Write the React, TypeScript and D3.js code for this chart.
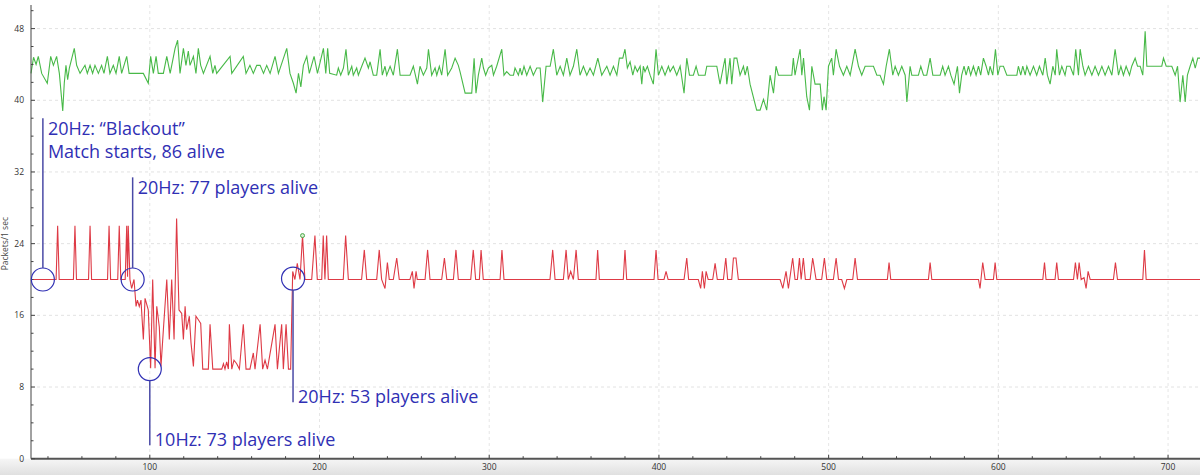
import React from 'react';
import * as d3 from 'd3';

type P = [number, number];

// Green series (upper) — vertices [seconds, packets/1 sec]
const greenA: P[] = [[30,43],[31.5,44.8],[33,44],[34.3,44.9],[36.3,43],[39.6,41.9],[41.6,44.9],[43.2,43.9],[45.1,44.9],[46.7,43],[48.7,38.8],[49.6,41.9],[50.6,43.9],[51.6,42.3],[52.6,43.6],[55.5,45.8],[56.9,43.9],[58.9,43],[61.8,43.9],[63.2,43],[64.8,43.9],[66.3,43],[67.7,43.9],[69.7,43],[71.6,43.9],[73,43],[75,44.9],[76.5,43],[78.5,43.9],[80.1,43],[82,44.9],[83.4,43],[86.4,44.9],[87.8,43],[96.2,43],[99.1,41.9],[100.5,44.9],[102.1,43],[103.7,44.9],[105,43],[108,43],[110,44.9],[112,43],[114.9,45.8],[116.4,46.7],[117.8,43],[119.8,45.8],[121.3,43.9],[122.7,45.5],[123.7,43.9],[125.7,44.9],[127.2,43],[128.6,45.8],[130,43.9],[131.6,43],[135.5,44.9],[137.1,43],[138.4,43.9],[139.4,43],[147.3,44.9],[148.3,43],[155.1,44.9],[156.7,43],[159,43.9],[161,43],[163,43.9],[165,43.9],[167,43],[168.9,43.9],[170.9,43],[173.8,44.9],[175.8,43],[180.7,45.8],[182.6,43],[184.6,41.9],[186.2,40.8],[187.6,43],[189,41.5],[190.5,43.9],[192.5,44.9],[194,43],[196.8,44.9],[198.8,43],[202.3,45.8],[203.7,43],[204.8,45.8],[206,43]];
const greenB: P[] = [[210.1,42.8],[211.1,43.6],[212.5,42.8],[214.1,43.6],[215.6,45.7],[217,42.8],[219,43.8],[219.9,42.8],[221.9,43.6],[222.9,42.8],[224.9,43.8],[226.8,44.7],[228.8,43.6],[229.8,44.3],[231.7,42.8],[233.7,42.8],[235.7,45.7],[237,42.8],[238.6,43.8],[239.6,42.8],[241.6,43.8],[243.5,42.8],[245.9,45.7],[247.5,42.8],[253.3,42.8],[255.3,43.8],[257.7,41.8],[259.2,43.8],[261.2,42.8],[263.2,43.6],[264.2,45.7],[266.1,42.8],[268.1,43.6],[269.1,42.8],[270.6,43.8],[272,42.8],[274,45.7],[275.5,42.8],[277.9,43.6],[279.9,44.7],[281.8,43.9],[282.8,43.2],[285.8,40.8],[289.7,40.8],[291.1,44.7],[292.2,40.8],[293.6,42.8],[295.6,44.7],[296.6,43.6],[297.9,42.8],[299.5,43.6],[301.5,43.9],[302.5,42.8],[304.4,43.8],[307.4,45.7],[308.7,42.8],[310.3,43.2],[312.3,42.8],[314.3,42.8],[315.2,43.6],[317.2,42.8],[318.2,43.6],[319.2,42.8],[320.5,43.8],[322.1,42.8],[324.1,43.8],[326,42.8],[328,43.6],[330,43.6],[331.5,39.8],[333.5,43.8],[335.9,43.8],[337.8,45.7],[339.8,42.8],[341.8,43.8],[343.7,42.8],[345.7,44.7],[347.6,42.8],[349.6,43.8],[351.6,45.7],[353.5,42.8],[355.5,43.8],[357.5,42.8],[359.4,43.6],[361.4,42.8],[364,44.7],[366.3,42.8],[369.3,43.8],[371.2,42.8],[373.2,43.8],[375.2,42.8],[376.7,44.7]];
const greenC: P[] = [[378.7,44.7],[380,45.7],[381.4,43.6],[383,44.3],[384.6,42.8],[385.9,43.8],[387.3,43.2],[388.9,43.8],[389.9,41.8],[390.8,43.8],[391.8,43.2],[393.2,43.8],[394.8,42.8],[396.7,41.8],[398.3,45.7],[399.7,42.8],[401.7,43.8],[403.6,42.8],[405.6,43.8],[406.6,43.2],[408.5,43.8],[410.5,42.8],[412.5,43.8],[414.8,40.8],[416.4,44.7],[418,42.8],[420.3,42.8],[421.9,43.8],[423.3,42.8],[427.2,42.8],[428.2,43.8],[434.1,43.8],[436,41.8],[438,43.8],[439,44.7],[440,41.8],[441.9,44.7],[442.9,41.8],[444.3,44.7],[445.9,44.7],[447.8,42.8],[449.8,43.8],[450.8,42.8],[452.1,43.8],[453.7,41.8],[457.6,38.9],[459.6,38.9],[461.6,40.1],[463.5,38.9],[465.5,42.8],[467.5,40.8],[469,43.8],[470.4,42.8],[478.3,42.8],[479.2,44.7],[480.2,42.8],[481.2,43.8],[483.2,45.7],[484.2,42.8],[485.2,44.7],[487.1,40.4],[488.7,38.9],[490.1,43.8],[492,41.8],[495,41.8],[496.3,38.9],[497.3,40.4],[498.5,38.9],[499.9,43.8],[501.8,44.7],[502.8,42.8],[504.4,45.7],[506.4,43.8],[508.7,42.8],[510.7,43.8],[512.7,42.8],[515.6,45.7],[517.6,43.8],[519.5,42.8],[521.5,43.8],[523.5,43.8],[526.4,43.8],[528.4,42.8],[530.3,42.8],[532.3,41.8],[533.9,43.8],[535.8,45.7],[537.8,42.8],[539.2,43.8],[541.1,42.8],[543.1,43.8],[545.1,42.8],[546.1,39.8],[548,43.8]];
const greenD: P[] = [[549,42.8],[552.9,42.8],[554.3,43.8],[555.9,42.8],[557.8,42.8],[559.8,44.7],[561.4,42.8],[565.7,42.8],[567.2,43.8],[568.6,42.8],[570.6,43.8],[572,42.8],[573.9,41.8],[575.9,43.8],[577.1,40.8],[578.4,42.8],[579.8,43.8],[581,42.8],[582.4,43.8],[583.7,42.8],[585.3,43.8],[586.9,42.8],[588.3,43.8],[589.6,42.8],[591.2,44.7],[592.8,43.8],[594.2,42.8],[595.1,43.8],[596.7,42.8],[598.3,45.7],[599.7,42.8],[601,43.8],[603,43.8],[605,42.8],[610.9,42.8],[611.8,43.8],[613.2,42.8],[614.4,43.8],[615.8,42.8],[616.8,43.8],[618.7,42.8],[620.7,43.8],[622.6,42.8],[624.2,43.8],[626.2,42.8],[627.6,44.7],[628.9,42.8],[630.5,41.8],[632.1,43.8],[633.5,42.8],[634.4,45.7],[636,42.8],[637.4,43.8],[639.3,42.8],[640.3,43.8],[642.3,43.8],[644.3,42.8],[645.6,45.7],[647.2,42.8],[648.2,45.7],[649.8,43.8],[651.1,42.8],[653.1,43.8],[655.1,42.8],[657,43.8],[659,42.8],[661,43.8],[662.9,42.8],[664.9,43.8],[666.9,42.8],[668.8,45.7],[670.8,42.8],[672.2,43.8],[673.7,42.8],[675.3,43.8],[677.3,42.8],[678.6,43.8],[680.6,44.7],[682,43.8],[683.6,43.8],[685.1,42.8],[686.5,47.7],[687.5,43.8],[691.4,43.8],[696.3,43.8],[697.3,44.7],[698.9,43.8],[702.2,43.8],[704.2,42.8],[705.6,43.8],[707.1,39.8],[708.7,42.8],[710.1,39.8],[711.4,42.8],[713,43.8],[714.6,44.7],[716,43.6],[717.5,44.7],[720,44.7]];

// Red series (lower)
const redA: P[] = [[30,20],[44.8,20],[45.7,26],[46.6,20],[55,20],[55.9,26],[56.8,20],[63.9,20],[64.8,26],[65.7,20],[75.1,20],[76,26],[76.9,20],[81.1,20],[82,26],[82.9,20],[85.5,20],[86.4,26],[86.9,20.3],[87.3,26],[88.3,20]];
const redB: P[] = [[89.3,19],[90.7,20],[91.9,17],[92.7,17.7],[93.8,17],[94.8,17.7],[96.2,13.3],[97.2,17.9],[99.1,16.6],[100.5,10.1],[101.7,20],[103.1,10.1],[104.1,17],[105.6,14.7],[106.6,10.3],[108,14.4],[110,20],[111.5,13.3],[112.9,20],[114.3,13.3],[115.8,26.8],[117.2,16.6],[118.8,16.2],[119.8,13.3],[120.8,17],[121.7,14.4],[123.3,15.9],[124.3,12.9],[125.7,10.3],[127.2,15.9],[128.6,15.5],[130,15.1],[131.2,10],[134.5,10],[135.5,15],[137.1,10],[142.4,10],[143.4,10.6],[144.3,10],[145.3,10.8],[146.3,10],[146.9,15],[148.3,10],[149.6,11],[151.2,10.6],[152.8,10],[155.1,15],[156.7,10],[159,10],[161,11.8],[162,10],[165,15],[166.5,10],[167.9,11],[169.3,10],[173.8,15],[175.2,10],[177.7,15],[178.7,10],[180.3,15],[181.7,10],[183,10]];
const redC: P[] = [[184.2,20.9],[185.5,20],[186.9,21.8],[188.5,20],[190,24.9],[191.4,20],[195.4,20],[197.3,24.9],[198.7,20],[201.3,20],[202.2,24.9],[203.2,20],[204.2,24.9],[205.2,20],[214,20],[215.4,24.9],[217,20],[224.8,20],[226.4,23.3],[227.8,20],[233.7,20],[235.2,23.3],[236.6,20],[238.6,19],[240,21.9],[241.1,20],[243.5,20],[245.5,22.4],[247,20],[253.3,20],[254.7,20.9],[255.7,19],[256.9,20.9],[257.6,20],[262.2,20],[263.7,23.3],[265.1,20],[272,20],[273.6,22.4],[275,20],[278.9,20],[280.4,23.3],[281.8,20],[289.1,20],[290.6,23.3],[292,20],[294.2,20],[295.2,23.3],[296.5,20],[306.4,20],[307.5,23.3],[308.7,20],[335.8,20],[337.4,23.3],[338.8,20],[343.7,20],[345.3,23.3],[346.6,20],[348,20.9],[349.6,20],[351.2,23.3],[352.5,20]];
const redD: P[] = [[362.9,20],[363.9,23.3],[364.9,20],[379,20],[380,23.3],[381,20],[397.1,20],[398.3,23.3],[399.5,20],[403,20],[404.2,20.9],[405.4,20],[414.8,20],[416.4,22.4],[417.5,20],[423.2,20],[424.6,19],[425.6,20.9],[426.8,19],[427.8,20.9],[429,20],[431.7,20],[433.1,21.8],[434.4,20],[438,20],[439.4,22.4],[440.5,20],[442.9,20],[443.9,22.4],[445.4,22.4],[446.8,20],[471.4,20],[473,19],[474.9,20.9],[476.3,19],[478.8,22.4],[480.2,20],[481.6,20],[482.8,22.4],[483.8,20],[485.1,22.4],[486.3,20],[489.1,20],[490.6,22.4],[492.6,20],[495.9,20],[497.5,22.4],[498.9,20],[502.8,20],[504.4,22.4],[505.8,20],[507.7,20],[509.3,19],[510.7,20],[514.2,20],[515.6,22.4],[517,20]];
const redE: P[] = [[534.6,20],[535.6,21.9],[536.6,20],[558.8,20],[559.8,21.9],[560.8,20],[588.3,20],[589.2,19],[590.8,21.9],[592.2,20],[597.1,20],[598.1,21.9],[599.1,20],[626.2,20],[627.2,21.9],[628.1,20],[633.4,20],[634.4,21.9],[635.4,20],[644.3,20],[645.4,21.9],[646.6,20],[647.6,21.9],[648.8,20],[650.5,20.2],[651.7,19],[652.9,20.9],[654.1,20],[667.8,20],[669,21.9],[670.2,20],[685.1,20],[686.1,23.3],[687.1,20],[720,20]];

const marker: P = [190, 24.9];

const xTicks = [100, 200, 300, 400, 500, 600, 700];
const xMinor = d3.range(40, 721, 20);
const yTicks = [0, 8, 16, 24, 32, 40, 48];
const yMinor = d3.range(0, 51, 2);

// Annotations: anchor [t, v], end of leader line (value), text lines
const annAnchors: P[] = [[37, 20], [89.9, 20], [100, 10], [184.4, 20.1]];
const annLineEnd = [38, 31.4, 1.5, 6.3];
const annTexts = [
  ['20Hz: \u201CBlackout\u201D', 'Match starts, 86 alive'],
  ['20Hz: 77 players alive'],
  ['10Hz: 73 players alive'],
  ['20Hz: 53 players alive'],
];

export default function App() {
  const W = 1200, H = 475;
  const x = d3.scaleLinear().domain([30, 720]).range([31, 1202]);
  const y = d3.scaleLinear().domain([0, 48]).range([458.7, 28.6]);
  const line = d3.line<P>().x(d => x(d[0])).y(d => y(d[1]));
  const green = [...greenA, ...greenB, ...greenC, ...greenD];
  const red = [...redA, ...redB, ...redC, ...redD, ...redE];
  const x0 = x(30), yb = y(0), yTop = 5;
  const blue = '#3030b4';
  const lineBlue = '#4a4aa6';
  const font = "'Open Sans', 'Noto Sans', sans-serif";
  const r = 11.5;

  return (
    <svg width={W} height={H} style={{ position: 'absolute', left: 0, top: 0, background: '#fff' }}>
      <defs>
        <linearGradient id="bandg" x1="0" y1="0" x2="0" y2="1">
          <stop offset="0" stopColor="#f6f6f6" />
          <stop offset="1" stopColor="#e0e0e0" />
        </linearGradient>
      </defs>
      <rect x={0} y={0} width={W} height={H} fill="#fff" />
      <rect x={0} y={yb} width={W} height={H - yb} fill="url(#bandg)" />
      {/* grid */}
      {yTicks.filter(t => t > 0).map(t => (
        <line key={'gy' + t} x1={x0} x2={W} y1={y(t)} y2={y(t)} stroke="#e2e2e2" strokeDasharray="3,3" strokeWidth={1} />
      ))}
      {xTicks.map(t => (
        <line key={'gx' + t} x1={x(t)} x2={x(t)} y1={yTop} y2={yb} stroke="#e6e6e6" strokeDasharray="3,3" strokeWidth={1} />
      ))}
      {/* series */}
      <path d={line(green) || ''} fill="none" stroke="#48b948" strokeWidth={1.1} />
      <path d={line(red) || ''} fill="none" stroke="#de3a45" strokeWidth={1.1} />
      <circle cx={x(marker[0])} cy={y(marker[1])} r={2} fill="#d8f0d0" stroke="#4aa84a" strokeWidth={1} />
      {/* axes */}
      <line x1={x0} x2={x0} y1={yTop} y2={yb} stroke="#444" strokeWidth={1} />
      <line x1={x0} x2={W} y1={yb} y2={yb} stroke="#555" strokeWidth={2} />
      {yMinor.map(t => (
        <line key={'ym' + t} x1={x0} x2={x0 + (t % 8 === 0 ? 4 : 2.5)} y1={y(t)} y2={y(t)} stroke="#444" strokeWidth={1} />
      ))}
      {xMinor.map(t => (
        <line key={'xm' + t} x1={x(t)} x2={x(t)} y1={yb} y2={yb - (t % 100 === 0 ? 4 : 2.5)} stroke="#444" strokeWidth={1} />
      ))}
      {yTicks.map(t => (
        <text key={'yl' + t} x={24} y={y(t) + 3} textAnchor="end" fontSize={8.5} fontFamily={font} fill="#333">{t}</text>
      ))}
      {xTicks.map(t => (
        <text key={'xl' + t} x={x(t)} y={470} textAnchor="middle" fontSize={8.5} fontFamily={font} fill="#333">{t}</text>
      ))}
      <text transform={`translate(8,${y(24)}) rotate(-90)`} textAnchor="middle" fontSize={8.5} fontFamily={font} fill="#444">Packets/1 sec</text>
      {/* annotations */}
      {annAnchors.map((a, i) => {
        const cx = x(a[0]), cy = y(a[1]);
        const ey = y(annLineEnd[i]);
        const up = ey < cy;
        const ly1 = up ? cy - r : cy + r;
        const tx = cx + 5;
        const lines = annTexts[i];
        const firstBase = up ? ey + 17 : ey + 1;
        return (
          <g key={'ann' + i}>
            <circle cx={cx} cy={cy} r={r} fill="none" stroke={blue} strokeWidth={1.2} />
            <line x1={cx} x2={cx} y1={ly1} y2={ey} stroke={lineBlue} strokeWidth={1.5} />
            {lines.map((s, j) => (
              <text key={j} x={tx} y={firstBase + j * 23} fontSize={18} fontFamily={font} fill={blue}>{s}</text>
            ))}
          </g>
        );
      })}
    </svg>
  );
}
